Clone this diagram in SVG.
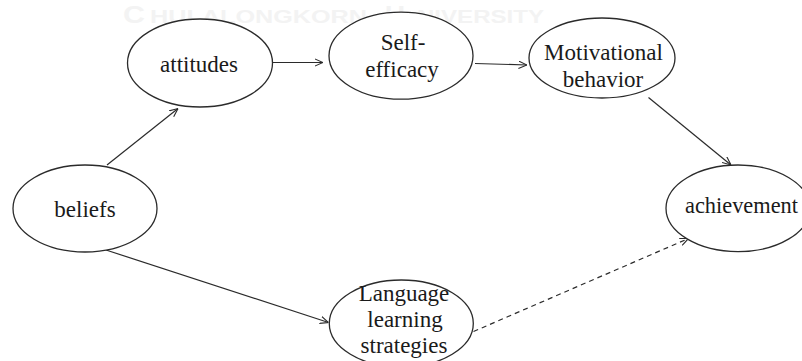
<svg xmlns="http://www.w3.org/2000/svg" width="802" height="361" viewBox="0 0 802 361">
  <style>
    .node ellipse { fill: #ffffff; stroke: #2b2b2b; stroke-width: 1.3; }
    .node text { font-family: "Liberation Serif", "Times New Roman", serif; font-size: 23px; fill: #1a1a1a; text-anchor: middle; }
    .edge { fill: none; stroke: #2b2b2b; stroke-width: 1.2; marker-end: url(#arrow); }
    .dashed { stroke-dasharray: 5 4; }
    .mark { font-family: "Liberation Sans", Arial, sans-serif; font-weight: bold; fill: #f3f3f3; }
  </style>
  <defs>
    <marker id="arrow" viewBox="0 0 10 10" refX="10" refY="5" markerWidth="8.5" markerHeight="8.5" markerUnits="userSpaceOnUse" orient="auto">
      <path d="M0,0.6 L10,5 L0,9.4" fill="none" stroke="#2b2b2b" stroke-width="1.3"/>
    </marker>
  </defs>

  <rect width="802" height="361" fill="#ffffff"/>

  <!-- faint header lettering -->
  <text class="mark" y="23">
    <tspan x="123" font-size="24" textLength="22" lengthAdjust="spacingAndGlyphs">C</tspan><tspan x="150" font-size="19" textLength="217" lengthAdjust="spacingAndGlyphs">HULALONGKORN</tspan><tspan x="385" font-size="24" textLength="20" lengthAdjust="spacingAndGlyphs">U</tspan><tspan x="417" font-size="19" textLength="127" lengthAdjust="spacingAndGlyphs">NIVERSITY</tspan>
  </text>

  <!-- connectors -->
  <g id="connectors">
    <line class="edge" x1="107" y1="165" x2="178" y2="108.5"/>
    <line class="edge" x1="272" y1="62.5" x2="323" y2="62.5"/>
    <line class="edge" x1="475" y1="63.5" x2="527" y2="65"/>
    <line class="edge" x1="648.5" y1="97.5" x2="731" y2="165"/>
    <line class="edge" x1="106" y1="250" x2="328.5" y2="322.5"/>
    <line class="edge dashed" x1="473.5" y1="331.5" x2="688.5" y2="238.5"/>
  </g>

  <!-- nodes -->
  <g id="beliefs" class="node">
    <ellipse cx="85" cy="208.5" rx="72" ry="43.5"/>
    <text x="85" y="217">beliefs</text>
  </g>

  <g id="attitudes" class="node">
    <ellipse cx="200" cy="63" rx="72.5" ry="44"/>
    <text x="199" y="72">attitudes</text>
  </g>

  <g id="self-efficacy" class="node">
    <ellipse cx="401" cy="55.7" rx="72" ry="43.5"/>
    <text x="403" y="50">Self-</text>
    <text x="402" y="77">efficacy</text>
  </g>

  <g id="motivational-behavior" class="node">
    <ellipse cx="602" cy="58" rx="73" ry="40"/>
    <text x="603.5" y="60">Motivational</text>
    <text x="603" y="87">behavior</text>
  </g>

  <g id="achievement" class="node">
    <ellipse cx="738" cy="208.3" rx="72" ry="43.3"/>
    <text x="741.5" y="213" textLength="113" lengthAdjust="spacingAndGlyphs">achievement</text>
  </g>

  <g id="language-learning-strategies" class="node">
    <ellipse cx="401.3" cy="323.5" rx="72" ry="43.5"/>
    <text x="404" y="301">Language</text>
    <text x="405" y="327">learning</text>
    <text x="404" y="353">strategies</text>
  </g>
</svg>
